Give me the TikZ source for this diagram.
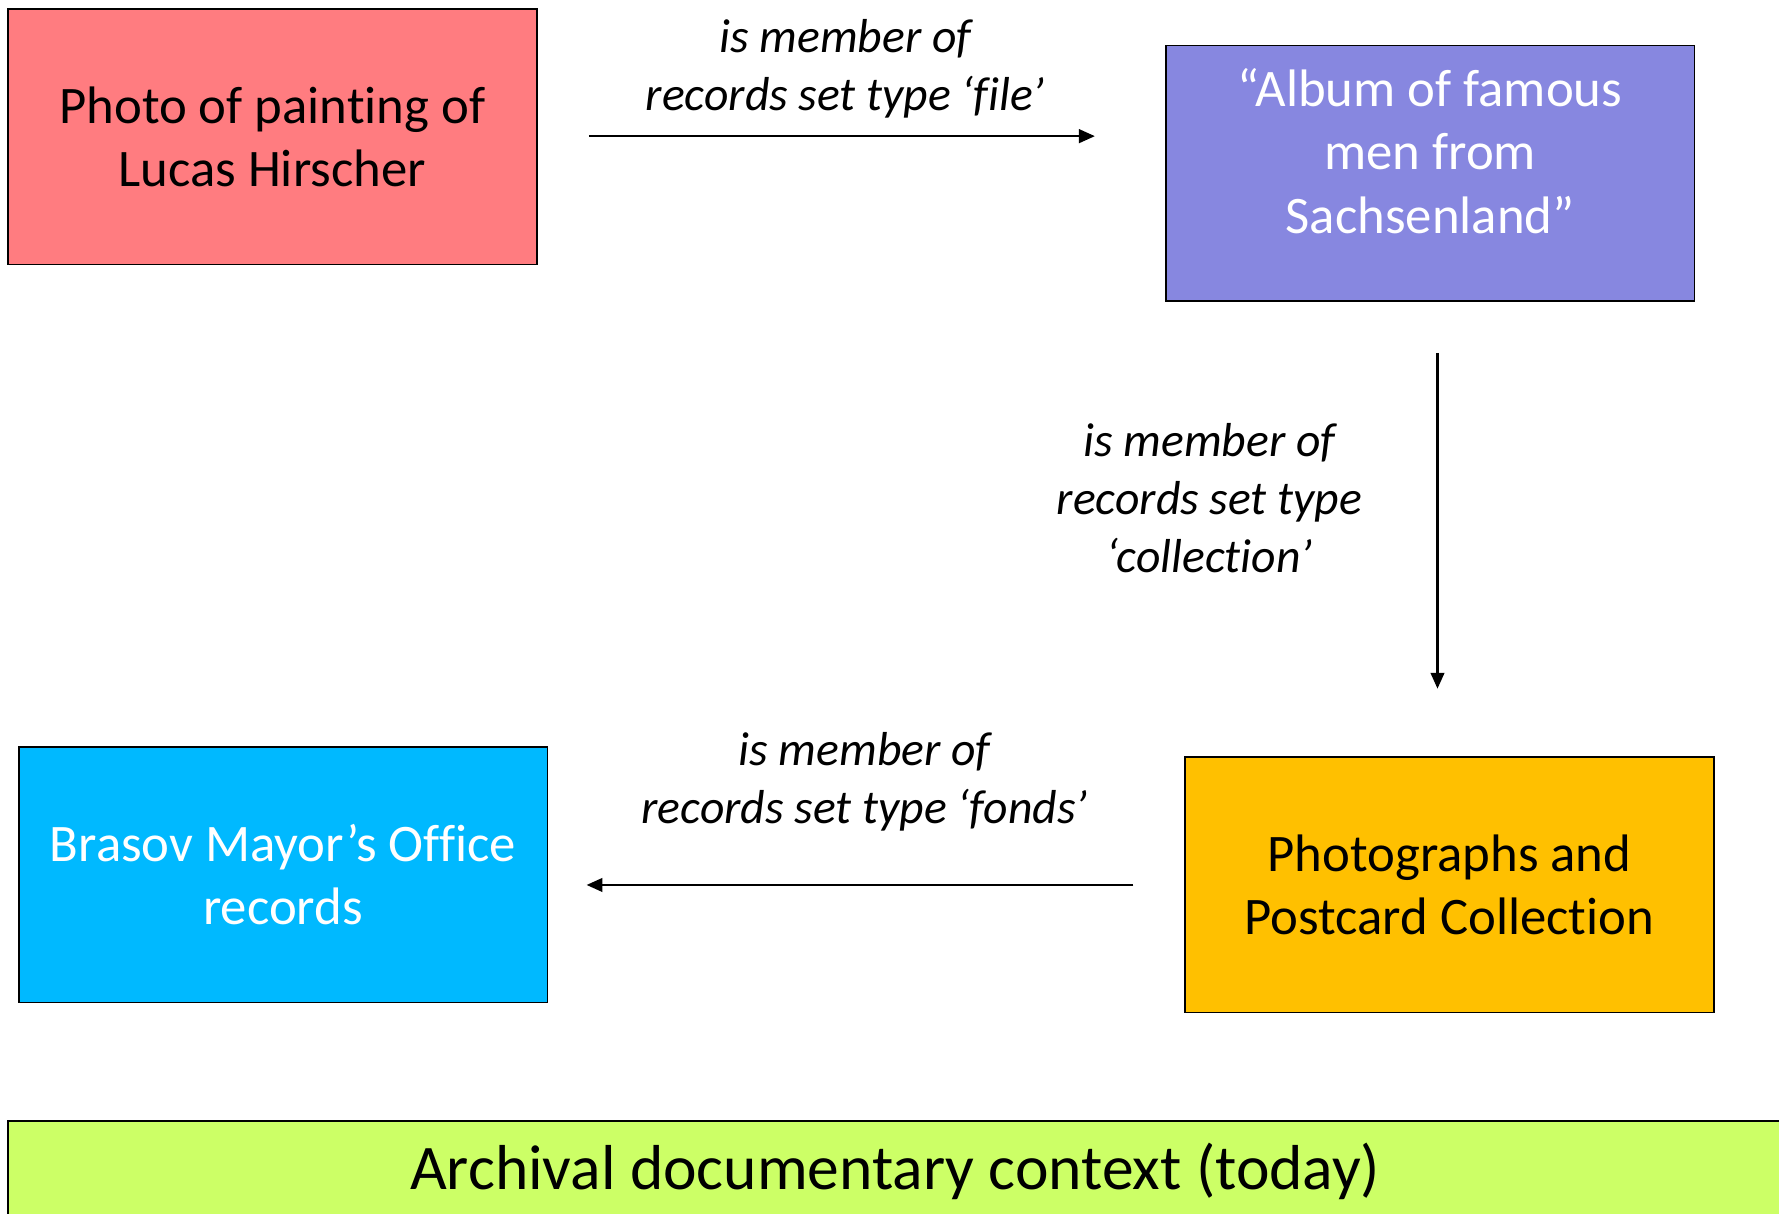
\documentclass[tikz,border=0pt]{standalone}
\usepackage{fontspec}
\setmainfont[Ligatures=NoCommon]{Carlito}
\usetikzlibrary{arrows.meta}
\definecolor{cred}{HTML}{FF7C80}
\definecolor{cpurple}{HTML}{8787E0}
\definecolor{cblue}{HTML}{00B9FF}
\definecolor{corange}{HTML}{FFC000}
\definecolor{cgreen}{HTML}{CCFF66}
\tikzset{
  box/.style={draw=black, line width=1.5pt, rectangle, minimum width=466pt, minimum height=225pt, inner sep=0pt, align=center, font=\fontsize{46.5}{56}\selectfont},
  boxtext/.style={align=center, inner sep=0pt, font=\fontsize{46.5}{56}\selectfont},
  rel/.style={align=center, inner sep=0pt, font=\fontsize{42}{51}\selectfont\itshape},
  conn/.style={line width=2pt, -{Triangle[length=14pt,width=12pt]}}
}
\begin{document}
\begin{tikzpicture}[x=1pt,y=-1pt]
\clip (0,0) rectangle (1568,1070);
\fill[white] (0,0) rectangle (1568,1070);
% boxes
\node[box, fill=cred] (photo) at (240,120.5) {Photo of painting of\\Lucas Hirscher};
\node[box, fill=cpurple] (album) at (1260.5,152.5) {};
\node[boxtext, text=white] (albumtext) at (1260.5,133) {“Album of famous\\men from\\Sachsenland”};
\node[box, fill=cblue, text=white] (brasov) at (249.5,771) {Brasov Mayor’s Office\\records};
\node[box, fill=corange] (postcard) at (1277.5,780) {Photographs and\\Postcard Collection};
\node[draw=black, line width=1.5pt, fill=cgreen, minimum width=1573pt, minimum height=100pt, inner sep=0pt] (context) at (793.5,1038) {};
\node[inner sep=0pt, font=\fontsize{56}{66}\selectfont] (contexttext) at (789,1032) {Archival documentary context (today)};
% connector end points
\coordinate (a1s) at (519,120);
\coordinate (a1e) at (965,120);
\coordinate (a2s) at (1267,311);
\coordinate (a2e) at (1267,607);
\coordinate (a3s) at (999,780);
\coordinate (a3e) at (517,780);
\draw[conn] (a1s) -- (a1e);
\draw[conn] (a2s) -- (a2e);
\draw[conn] (a3s) -- (a3e);
% labels
\node[rel] (l1) at (745,61) {is member of\\records set type ‘file’};
\node[rel] (l2) at (1066,439) {is member of\\records set type\\‘collection’};
\node[rel] (l3) at (762,689) {is member of\\records set type ‘fonds’};
\end{tikzpicture}
\end{document}
